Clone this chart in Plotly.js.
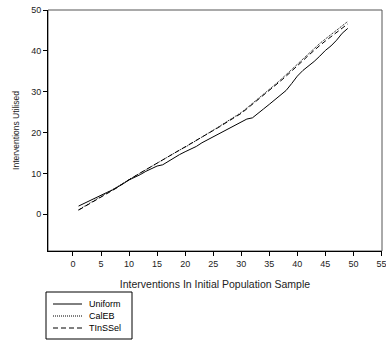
<!DOCTYPE html>
<html><head><meta charset="utf-8">
<script src="https://cdn.plot.ly/plotly-3.0.1.min.js"></script>
<style>html,body{margin:0;padding:0;background:#fff}#c{width:386px;height:342px}</style>
</head><body><div id="c"></div>
<script>
var xs = [];
for (var i = 1; i <= 49; i++) xs.push(i);
var uniform = [2.0,2.7,3.4,4.0,4.6,5.3,5.9,6.6,7.5,8.4,9.0,9.7,10.5,11.2,11.8,12.1,13.0,13.8,14.6,15.3,15.9,16.6,17.5,18.2,18.9,19.6,20.4,21.1,21.9,22.5,23.3,23.6,24.6,25.8,26.9,28.0,29.0,30.3,32.0,33.8,35.2,36.2,37.4,38.7,40.1,41.2,42.6,44.3,45.5];
var calEB = [1.1,1.9,2.7,3.5,4.2,5.0,5.8,6.7,7.6,8.5,9.3,10.2,11.0,11.8,12.6,13.4,14.1,14.9,15.7,16.4,17.2,18.0,18.9,19.7,20.6,21.4,22.3,23.1,24.0,24.9,26.0,27.1,28.2,29.3,30.5,31.7,32.9,34.1,35.4,36.7,38.0,39.3,40.6,41.8,42.9,44.0,45.2,46.3,47.2];
var tinssel = [1.0,1.8,2.6,3.4,4.1,4.9,5.7,6.6,7.6,8.5,9.3,10.1,10.9,11.7,12.5,13.3,14.0,14.8,15.6,16.3,17.1,17.9,18.8,19.6,20.5,21.3,22.1,23.0,23.8,24.7,25.8,26.9,28.0,29.1,30.3,31.4,32.6,33.8,35.0,36.3,37.6,38.9,40.2,41.3,42.4,43.5,44.6,45.7,46.6];
var seriesNames = ["Uniform","CalEB","TInSSel"];
var xTicks = [0,5,10,15,20,25,30,35,40,45,50,55];
var yTicks = [0,10,20,30,40,50];

var dashes = ["solid", "1px,1px", "5px,3px"];
var seriesData = [uniform, calEB, tinssel];
var traces = seriesData.map(function (d, k) {
  return {x: xs, y: d, name: seriesNames[k], mode: "lines", showlegend: false,
          line: {color: "#000", width: 1, dash: dashes[k]}};
});

// figure geometry (pixels)
var W = 386, H = 342, mL = 48, mR = 4, mT = 10, mB = 3;
var pw = W - mL - mR, ph = H - mT - mB;
var axisBottomPx = 251;
var domLow = (H - mB - axisBottomPx) / ph;
function px2x(p) { return (p - mL) / pw; }
function px2y(p) { return (H - mB - p) / ph; }

var shapes = [{type: "rect", xref: "paper", yref: "paper", x0: 0, x1: 1, y0: domLow, y1: 1,
               line: {color: "#555", width: 1}, layer: "below"}];
// legend box
shapes.push({type: "rect", xref: "paper", yref: "paper", x0: px2x(46), x1: px2x(132), y0: px2y(339), y1: px2y(292),
             line: {color: "#000", width: 1}, fillcolor: "#fff"});
var annotations = [];
var rowsPx = [304, 316, 328];
for (var k = 0; k < 3; k++) {
  shapes.push({type: "line", xref: "paper", yref: "paper", x0: px2x(53), x1: px2x(82), y0: px2y(rowsPx[k]), y1: px2y(rowsPx[k]),
               line: {color: "#000", width: 1, dash: dashes[k]}});
  annotations.push({xref: "paper", yref: "paper", x: px2x(87), y: px2y(rowsPx[k]), xanchor: "left", yanchor: "middle",
                    text: seriesNames[k], showarrow: false, font: {size: 9, color: "#000"}});
}

var layout = {
  width: W, height: H,
  margin: {l: mL, r: mR, t: mT, b: mB},
  paper_bgcolor: "#fff", plot_bgcolor: "#fff",
  font: {family: "Liberation Sans, Arial, sans-serif", size: 9, color: "#222"},
  showlegend: false,
  xaxis: {range: [-4.45, 55.1], tickvals: xTicks, ticktext: xTicks.map(String), ticks: "outside", ticklen: 4,
          tickcolor: "#000", showline: true, linecolor: "#000", linewidth: 1, showgrid: false, zeroline: false,
          tickfont: {size: 9}, automargin: false, ticklabeloverflow: "allow",
          title: {text: "Interventions In Initial Population Sample", font: {size: 10.5, color: "#222"}, standoff: 12}},
  yaxis: {range: [-9, 50], domain: [domLow, 1], tickvals: yTicks, ticktext: yTicks.map(String), ticks: "outside", ticklen: 4,
          tickcolor: "#000", showline: true, linecolor: "#000", linewidth: 1, showgrid: false, zeroline: false,
          tickfont: {size: 9}, automargin: false,
          title: {text: "Interventions Utilised", font: {size: 8.5, color: "#222"}, standoff: 10}},
  shapes: shapes,
  annotations: annotations
};
Plotly.newPlot("c", traces, layout, {displayModeBar: false, staticPlot: true});
</script></body></html>
